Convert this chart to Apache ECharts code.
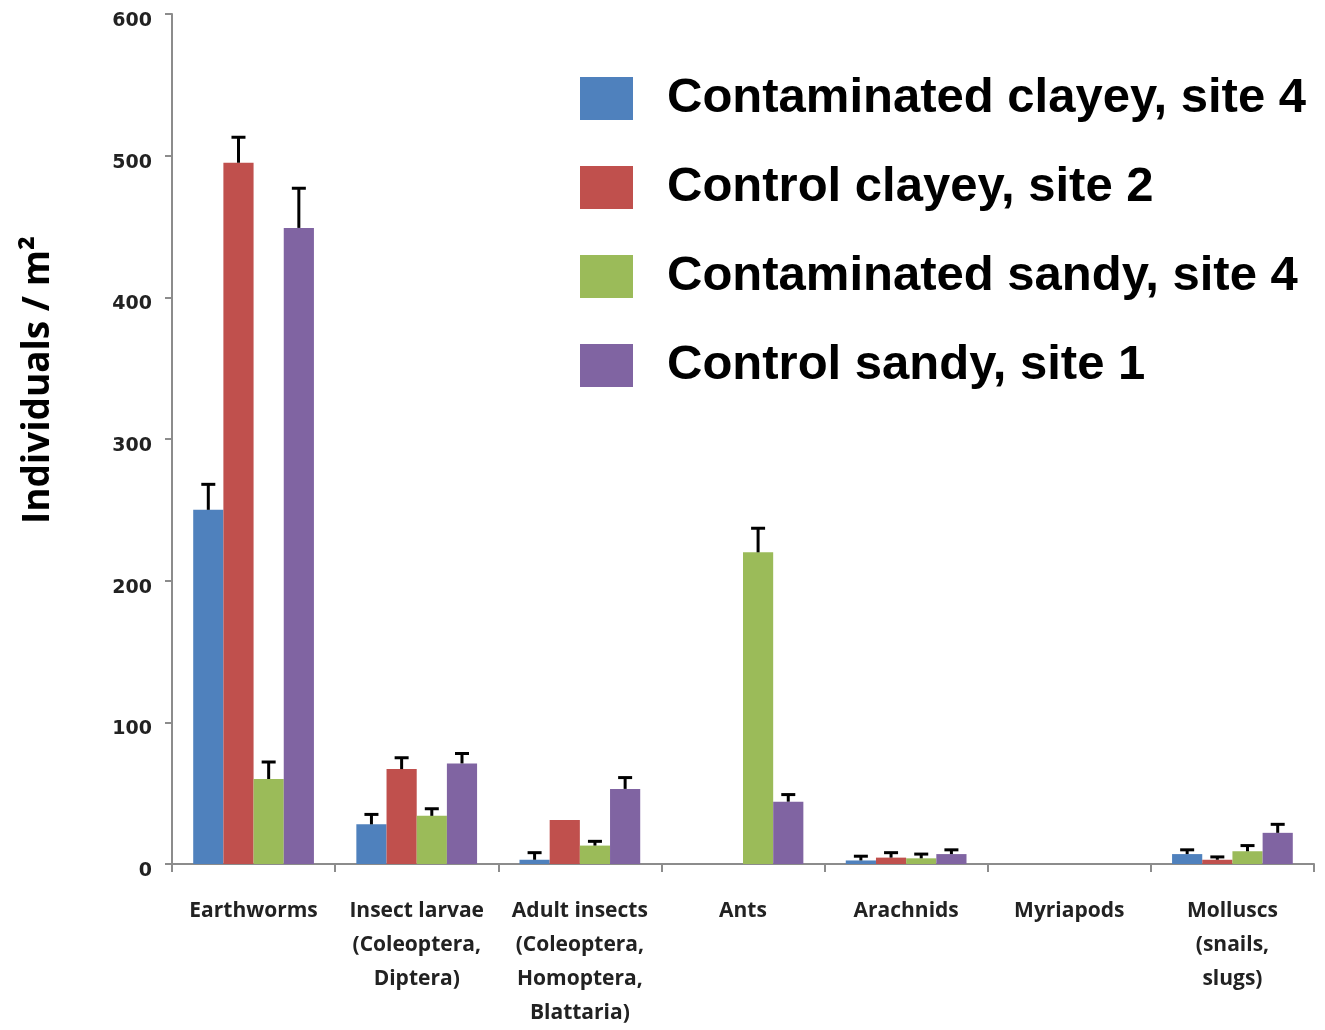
<!DOCTYPE html>
<html><head><meta charset="utf-8">
<script src="https://cdn.jsdelivr.net/npm/echarts@6/dist/echarts.min.js"></script>
<style>html,body{margin:0;padding:0;background:#fff}#c{width:1325px;height:1030px}</style>
</head><body><div id="c"></div>
<script>
const categories = ["Earthworms","Insect larvae\n(Coleoptera,\nDiptera)","Adult insects\n(Coleoptera,\nHomoptera,\nBlattaria)","Ants","Arachnids","Myriapods","Molluscs\n(snails,\nslugs)"];
const seriesNames = ["Contaminated clayey, site 4","Control clayey, site 2","Contaminated sandy, site 4","Control sandy, site 1"];
const contamClayey = [250, 28, 3, 0, 2.5, 0, 7];
const controlClayey = [495, 67, 31, 0, 4.5, 0, 3];
const contamSandy = [60, 34, 13, 220, 4, 0, 9];
const controlSandy = [449, 71, 53, 44, 7, 0, 22];
const errContamClayey = [18, 7, 5, 0, 3, 0, 3];
const errControlClayey = [18, 8, 0, 0, 3.5, 0, 2];
const errContamSandy = [12, 5, 3, 17, 3, 0, 4];
const errControlSandy = [28, 7, 8, 5, 3, 0, 6];
const yTicks = [0, 100, 200, 300, 400, 500, 600];

const colors = ['#4f81bd','#c0504d','#9bbb59','#8064a2'];
const values = [contamClayey, controlClayey, contamSandy, controlSandy];
const errs = [errContamClayey, errControlClayey, errContamSandy, errControlSandy];
const catGap = 0.26;

const chart = echarts.init(document.getElementById('c'));
const series = [];
values.forEach((v, i) => {
  series.push({
    name: seriesNames[i], type: 'bar', data: v, barGap: 0, barCategoryGap: (catGap*100)+'%',
    itemStyle: {color: colors[i]}, z: 2
  });
});
values.forEach((v, i) => {
  const d = [];
  v.forEach((val, k) => { if (errs[i][k] > 0) d.push([k, val, errs[i][k]]); });
  series.push({
    type: 'custom', data: d, z: 5, silent: true,
    renderItem: function (params, api) {
      const k = api.value(0), val = api.value(1), e = api.value(2);
      const band = api.size([1, 0])[0];
      const bw = band * (1 - catGap) / 4;
      const base = api.coord([k, val]);
      const top = api.coord([k, val + e]);
      const x = base[0] + (i - 1.5) * bw;
      const cap = 7;
      return {type: 'group', children: [
        {type: 'line', shape: {x1: x, y1: base[1], x2: x, y2: top[1]}, style: {stroke: '#000', lineWidth: 3}},
        {type: 'line', shape: {x1: x - cap, y1: top[1], x2: x + cap, y2: top[1]}, style: {stroke: '#000', lineWidth: 3}}
      ]};
    }
  });
});

chart.setOption({
  animation: false,
  backgroundColor: '#fff',
  grid: {left: 172, right: 11, top: 14, bottom: 165, containLabel: false},
  legend: {
    data: seriesNames, orient: 'vertical', left: 580, top: 74, padding: 0,
    itemWidth: 53, itemHeight: 43, itemGap: 40, icon: 'rect',
    textStyle: {fontFamily: 'Liberation Sans, Arial, sans-serif', fontWeight: 'bold', fontSize: 49, color: '#000', padding: [0,0,0,29]}
  },
  xAxis: {
    type: 'category', data: categories,
    axisLine: {lineStyle: {color: '#8c8c8c', width: 2}},
    axisTick: {show: true, length: 8, lineStyle: {color: '#8c8c8c', width: 2}},
    axisLabel: {interval: 0, margin: 30, fontFamily: 'Open Sans, sans-serif', fontWeight: 'bold', fontSize: 21, lineHeight: 34, color: '#222', letterSpacing: -0.4}
  },
  yAxis: {
    type: 'value', min: 0, max: 600, interval: 100,
    splitLine: {show: false},
    axisLine: {show: true, lineStyle: {color: '#8c8c8c', width: 2}},
    axisTick: {show: true, length: 7, lineStyle: {color: '#8c8c8c', width: 2}},
    axisLabel: {margin: 20, fontFamily: 'DejaVu Sans, sans-serif', fontWeight: 'bold', fontSize: 19, color: '#222', verticalAlign: 'top', lineHeight: 14,
      formatter: v => yTicks.includes(v) ? String(v) : ''}
  },
  graphic: [{
    type: 'text', x: 38, y: 380, rotation: Math.PI / 2,
    style: {text: 'Individuals / m²', fontFamily: 'Open Sans, sans-serif', fontWeight: 'bold', fontSize: 37, fill: '#000', align: 'center', verticalAlign: 'middle'}
  }],
  series: series
});
</script></body></html>
